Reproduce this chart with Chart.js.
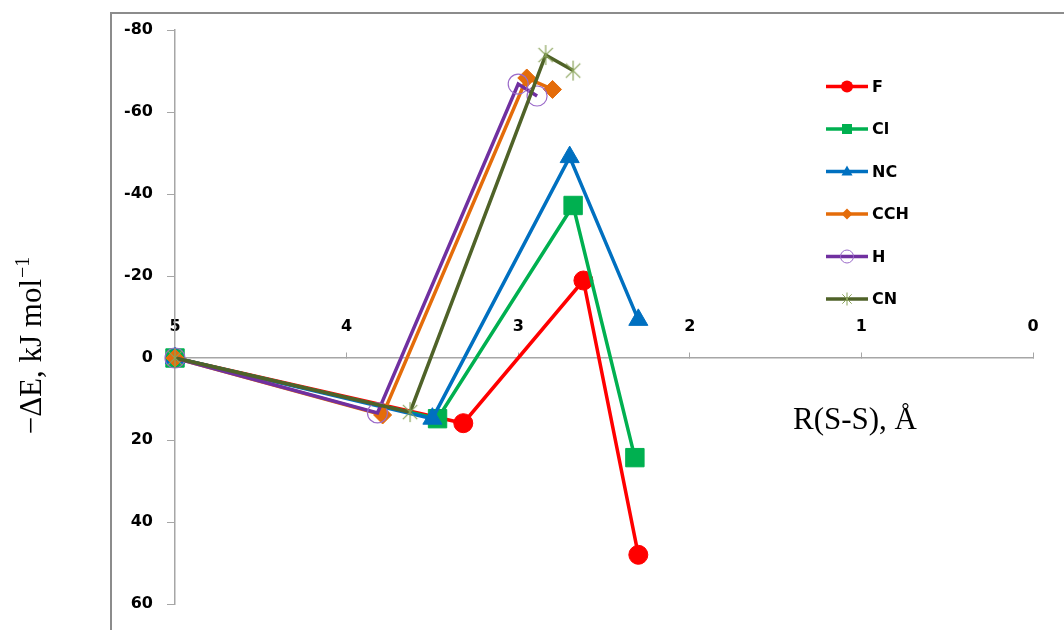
<!DOCTYPE html>
<html>
<head>
<meta charset="utf-8">
<script src="https://cdn.jsdelivr.net/npm/chart.js@4/dist/chart.umd.min.js"></script>
<style>
  html, body { margin: 0; padding: 0; background: #ffffff; }
  #wrap { width: 1064px; height: 630px; position: relative; }
</style>
</head>
<body>
<div id="wrap"><canvas id="chart"></canvas></div>
<script>
// S–S separation (Å) and interaction energy (kJ/mol) for each substituent
const seriesNames = ['F', 'Cl', 'NC', 'CCH', 'H', 'CN'];

const distF   = [5, 3.32, 2.62, 2.30];
const energyF = [0, 15.9, -18.9, 48.0];

const distCl   = [5, 3.47, 2.68, 2.32];
const energyCl = [0, 14.8, -37.2, 24.3];

const distNC   = [5, 3.50, 2.70, 2.30];
const energyNC = [0, 14.8, -49.0, -9.3];

const distCCH   = [5, 3.79, 2.95, 2.80];
const energyCCH = [0, 13.9, -68.3, -65.5];

const distH   = [5, 3.82, 3.00, 2.89];
const energyH = [0, 13.4, -66.8, -63.9];

const distCN   = [5, 3.63, 2.84, 2.68];
const energyCN = [0, 13.2, -73.9, -70.1];

const xTickValues = [0, 1, 2, 3, 4, 5];
const yTickValues = [-80, -60, -40, -20, 0, 20, 40, 60];

const xTitle = 'R(S-S), Å';
const yTitleMain = '\u2212\u0394E, kJ mol';
const yTitleSup = '\u22121';

// Asterisk-style marker: vertical bar plus a diagonal cross
function asteriskMarker(r, color) {
  const size = Math.ceil(r * 2 + 4);
  const c = document.createElement('canvas');
  c.width = size; c.height = size;
  const g = c.getContext('2d');
  const m = size / 2;
  const d = r * 0.72;
  g.strokeStyle = color;
  g.lineWidth = 1.2;
  g.beginPath();
  g.moveTo(m, m - r); g.lineTo(m, m + r);
  g.moveTo(m - d, m - d); g.lineTo(m + d, m + d);
  g.moveTo(m + d, m - d); g.lineTo(m - d, m + d);
  g.stroke();
  return c;
}

const styles = {
  F:   { line: '#FF0000', fill: '#FF0000', edge: '#FF0000', point: 'circle',   r: 9.5, bw: 1 },
  Cl:  { line: '#00B050', fill: '#00B050', edge: '#00B050', point: 'rect',     r: 13,  bw: 1 },
  NC:  { line: '#0070C0', fill: '#0070C0', edge: '#0070C0', point: 'triangle', r: 11,  bw: 1 },
  CCH: { line: '#E46C0A', fill: '#E46C0A', edge: '#E46C0A', point: 'rectRot',  r: 9,   bw: 1 },
  H:   { line: '#7030A0', fill: 'rgba(0,0,0,0)', edge: '#9B6BC9', point: 'circle', r: 10, bw: 1.2 },
  CN:  { line: '#4F6228', fill: '#77933C', edge: '#77933C', point: asteriskMarker(10, '#8AA35A'), r: 10, bw: 1 }
};

const seriesData = {
  F:   [distF, energyF],
  Cl:  [distCl, energyCl],
  NC:  [distNC, energyNC],
  CCH: [distCCH, energyCCH],
  H:   [distH, energyH],
  CN:  [distCN, energyCN]
};

const datasets = seriesNames.map((name, i) => {
  const [xs, ys] = seriesData[name];
  const s = styles[name];
  return {
    label: name,
    data: xs.map((x, k) => ({ x: x, y: ys[k] })),
    borderColor: s.line,
    borderWidth: 3.5,
    backgroundColor: s.fill,
    pointStyle: s.point,
    pointRadius: s.r,
    pointHoverRadius: s.r,
    pointBackgroundColor: s.fill,
    pointBorderColor: s.edge,
    pointBorderWidth: s.bw,
    tension: 0,
    fill: false,
    clip: false,
    order: seriesNames.length - i
  };
});

// Outer frame of the plot region (left and top edges)
const framePlugin = {
  id: 'frame',
  beforeDraw(chart) {
    const ctx = chart.ctx;
    ctx.save();
    ctx.strokeStyle = '#8c8c8c';
    ctx.lineWidth = 2;
    ctx.beginPath();
    ctx.moveTo(111, 630);
    ctx.lineTo(111, 13);
    ctx.lineTo(1064, 13);
    ctx.stroke();
    ctx.restore();
  }
};

// Axis titles in a serif face
const titlesPlugin = {
  id: 'titles',
  afterDraw(chart) {
    const ctx = chart.ctx;
    ctx.save();
    ctx.fillStyle = '#000000';
    ctx.font = '31px "Liberation Serif", "Times New Roman", serif';
    ctx.textAlign = 'center';
    ctx.textBaseline = 'alphabetic';
    ctx.fillText(xTitle, 855, 429);

    ctx.translate(41, 346);
    ctx.rotate(-Math.PI / 2);
    ctx.font = '31px "Liberation Serif", "Times New Roman", serif';
    const wMain = ctx.measureText(yTitleMain).width;
    ctx.font = '20px "Liberation Serif", "Times New Roman", serif';
    const wSup = ctx.measureText(yTitleSup).width;
    const start = -(wMain + wSup) / 2;
    ctx.textAlign = 'left';
    ctx.font = '31px "Liberation Serif", "Times New Roman", serif';
    ctx.fillText(yTitleMain, start, 0);
    ctx.font = '20px "Liberation Serif", "Times New Roman", serif';
    ctx.fillText(yTitleSup, start + wMain + 1, -12);
    ctx.restore();
  }
};

function drawLegendMarker(ctx, name, x, y) {
  const s = styles[name];
  ctx.save();
  ctx.fillStyle = s.fill;
  ctx.strokeStyle = s.edge;
  ctx.lineWidth = 1;
  ctx.beginPath();
  if (name === 'F') {
    ctx.arc(x, y, 6, 0, Math.PI * 2);
    ctx.fill();
  } else if (name === 'Cl') {
    ctx.rect(x - 5, y - 5, 10, 10);
    ctx.fill();
  } else if (name === 'NC') {
    ctx.moveTo(x, y - 6);
    ctx.lineTo(x + 5.5, y + 4);
    ctx.lineTo(x - 5.5, y + 4);
    ctx.closePath();
    ctx.fill();
  } else if (name === 'CCH') {
    ctx.moveTo(x, y - 5.5);
    ctx.lineTo(x + 5.5, y);
    ctx.lineTo(x, y + 5.5);
    ctx.lineTo(x - 5.5, y);
    ctx.closePath();
    ctx.fill();
  } else if (name === 'H') {
    ctx.arc(x, y, 6.5, 0, Math.PI * 2);
    ctx.stroke();
  } else if (name === 'CN') {
    ctx.strokeStyle = '#8AA35A';
    const r = 6.5, d = r * 0.72;
    ctx.moveTo(x, y - r); ctx.lineTo(x, y + r);
    ctx.moveTo(x - d, y - d); ctx.lineTo(x + d, y + d);
    ctx.moveTo(x + d, y - d); ctx.lineTo(x - d, y + d);
    ctx.stroke();
  }
  ctx.restore();
}

// Legend inside the plot: line segment with marker, then the label
const legendPlugin = {
  id: 'lineLegend',
  afterDraw(chart) {
    const ctx = chart.ctx;
    ctx.save();
    seriesNames.forEach((name, i) => {
      const y = 86.5 + i * 42.5;
      ctx.strokeStyle = styles[name].line;
      ctx.lineWidth = 3.5;
      ctx.beginPath();
      ctx.moveTo(826, y);
      ctx.lineTo(868, y);
      ctx.stroke();
      drawLegendMarker(ctx, name, 847, y);
      ctx.fillStyle = '#000000';
      ctx.font = 'bold 16px "DejaVu Sans", Verdana, sans-serif';
      ctx.textAlign = 'left';
      ctx.textBaseline = 'middle';
      ctx.fillText(name, 872, y + 1);
    });
    ctx.restore();
  }
};

new Chart(document.getElementById('chart'), {
  type: 'line',
  data: { datasets: datasets },
  options: {
    responsive: true,
    maintainAspectRatio: false,
    animation: false,
    layout: { padding: { left: 111, top: 30, right: 31, bottom: 26 } },
    plugins: {
      legend: { display: false },
      tooltip: { enabled: false }
    },
    scales: {
      x: {
        type: 'linear',
        position: { y: 0 },
        min: 0,
        max: 5,
        reverse: true,
        afterBuildTicks(scale) { scale.ticks = xTickValues.map(v => ({ value: v })); },
        grid: { drawOnChartArea: false, tickLength: -6, color: '#a6a6a6', lineWidth: 1 },
        border: { color: '#a6a6a6', width: 1.5 },
        ticks: {
          padding: -35,
          color: '#000000',
          font: { family: '"DejaVu Sans", Verdana, sans-serif', size: 16, weight: 'bold' },
          maxRotation: 0,
          callback: v => String(v)
        }
      },
      y: {
        type: 'linear',
        position: 'left',
        min: -80,
        max: 60,
        reverse: true,
        afterBuildTicks(scale) { scale.ticks = yTickValues.map(v => ({ value: v })); },
        afterFit(scale) { scale.width = 64; },
        grid: { drawOnChartArea: false, tickLength: 8, color: '#a6a6a6', lineWidth: 1 },
        border: { color: '#a6a6a6', width: 1.5 },
        ticks: {
          padding: 14,
          color: '#000000',
          font: { family: '"DejaVu Sans", Verdana, sans-serif', size: 16, weight: 'bold' },
          callback: v => String(v)
        }
      }
    }
  },
  plugins: [framePlugin, titlesPlugin, legendPlugin]
});
</script>
</body>
</html>
